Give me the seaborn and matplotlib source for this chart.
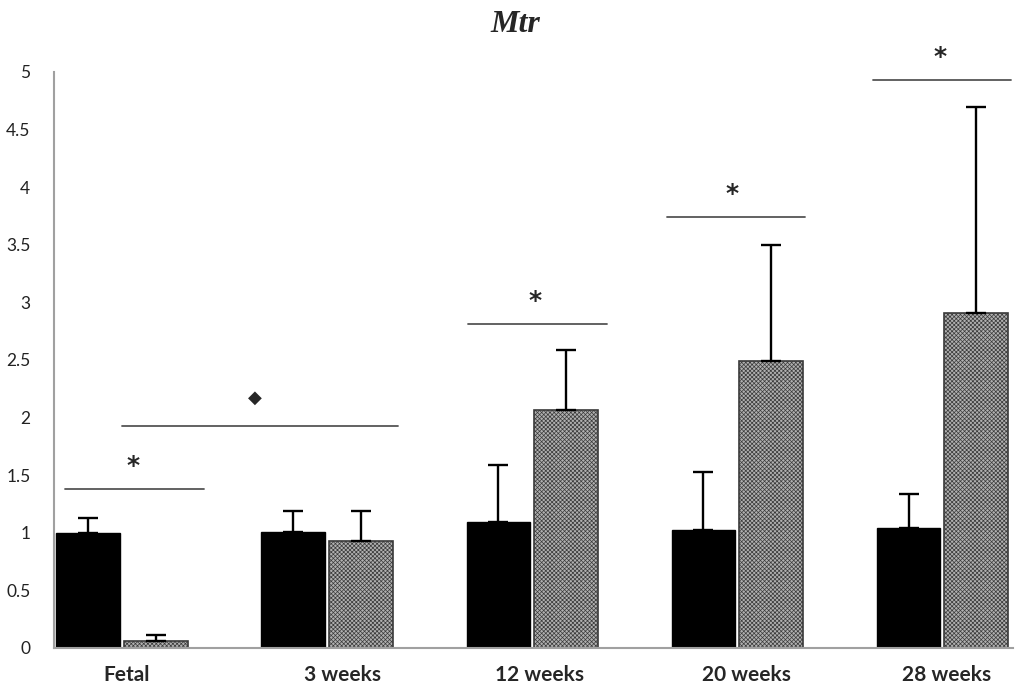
import matplotlib
matplotlib.use("Agg")
import matplotlib.pyplot as plt
import matplotlib.transforms as mtransforms
import seaborn as sns
import pandas as pd
import numpy as np

# ---- data ----
categories = ["Fetal", "3 weeks", "12 weeks", "20 weeks", "28 weeks"]
groups = ["Control", "Treated"]
control_mean = [1.00, 1.01, 1.09, 1.02, 1.04]
control_err = [0.13, 0.18, 0.50, 0.51, 0.30]
treated_mean = [0.06, 0.93, 2.07, 2.49, 2.91]
treated_err = [0.05, 0.26, 0.52, 1.01, 1.79]
yticks = [0, 0.5, 1, 1.5, 2, 2.5, 3, 3.5, 4, 4.5, 5]
ytick_labels = ["0", "0.5", "1", "1.5", "2", "2.5", "3", "3.5", "4", "4.5", "5"]

# significance annotations: (x start, x end, line y, symbol, symbol x)
sig_x0 = [-0.278, 0.0, 1.687, 2.657, 3.662]
sig_x1 = [0.40, 1.346, 2.365, 3.33, 4.334]
sig_y = [1.38, 1.93, 2.81, 3.74, 4.93]
sig_sym = ["*", "\u25C6", "*", "*", "*"]
sig_sx = [0.054, 0.648, 2.014, 2.974, 3.988]

# small horizontal offsets (pixels) of category labels as seen in the original
label_shift_px = [5, 15, 7, 9, 4]

df = pd.DataFrame({
    "category": categories * 2,
    "group": [groups[0]] * 5 + [groups[1]] * 5,
    "value": control_mean + treated_mean,
})
errs = control_err + treated_err

sns.set_style("white")
plt.rcParams["font.family"] = ["Lato", "DejaVu Sans"]
plt.rcParams["hatch.linewidth"] = 0.5

fig = plt.figure(figsize=(10.24, 6.95), dpi=100)
ax = fig.add_axes([54 / 1024, 47 / 695, (1013 - 54) / 1024, 576 / 695])

sns.barplot(data=df, x="category", y="value", hue="group", order=categories,
            hue_order=groups, palette=["black", "#9a9a9a"], width=0.66, gap=0.06,
            errorbar=None, legend=False, ax=ax, saturation=1)

bars = ax.patches[:10]
for i, p in enumerate(bars):
    if i < 5:
        p.set_facecolor("black")
        p.set_edgecolor("black")
    else:
        p.set_facecolor("#b0b0b0")
        p.set_edgecolor("#3a3a3a")
        p.set_hatch("xxxxxxxx")
        p.set_linewidth(1.2)
    xc = p.get_x() + p.get_width() / 2
    h = p.get_height()
    ax.errorbar([xc], [h], yerr=[[0], [errs[i]]], fmt="none", ecolor="black",
                elinewidth=1.7, capsize=7, capthick=1.7, zorder=3)

for x0, x1, y, s, sx in zip(sig_x0, sig_x1, sig_y, sig_sym, sig_sx):
    ax.plot([x0, x1], [y, y], color="#555555", lw=1.3, clip_on=False)
    if s == "*":
        ax.text(sx, y + 0.2, s, ha="center", va="center", fontsize=18,
                fontweight="bold", family=["DejaVu Sans"], clip_on=False)
    else:
        ax.text(sx, y + 0.24, s, ha="center", va="center", fontsize=13,
                family=["DejaVu Sans"], clip_on=False)

ax.set_xlim(-0.3315, 4.344)
ax.set_ylim(0, 5)
ax.set_yticks(yticks)
ax.set_yticklabels(ytick_labels, fontsize=12.5, color="#222222")
ax.set_xlabel("")
ax.set_ylabel("")
ax.tick_params(axis="y", length=0, pad=17)
ax.tick_params(axis="x", length=0, pad=12)
for lab, dx in zip(ax.get_xticklabels(), label_shift_px):
    lab.set_fontweight("bold")
    lab.set_fontsize(15)
    lab.set_transform(lab.get_transform() +
                      mtransforms.ScaledTranslation(dx / 100, 0, fig.dpi_scale_trans))

for side in ["top", "right"]:
    ax.spines[side].set_visible(False)
for side in ["left", "bottom"]:
    ax.spines[side].set_color("#a0a0a0")
    ax.spines[side].set_linewidth(1.5)

fig.text(515 / 1024, 1 - 24 / 695, "Mtr", ha="center", va="center",
         fontsize=23, fontweight="bold", style="italic",
         family=["Liberation Serif", "DejaVu Serif"])

fig.savefig("out.png", dpi=100)
